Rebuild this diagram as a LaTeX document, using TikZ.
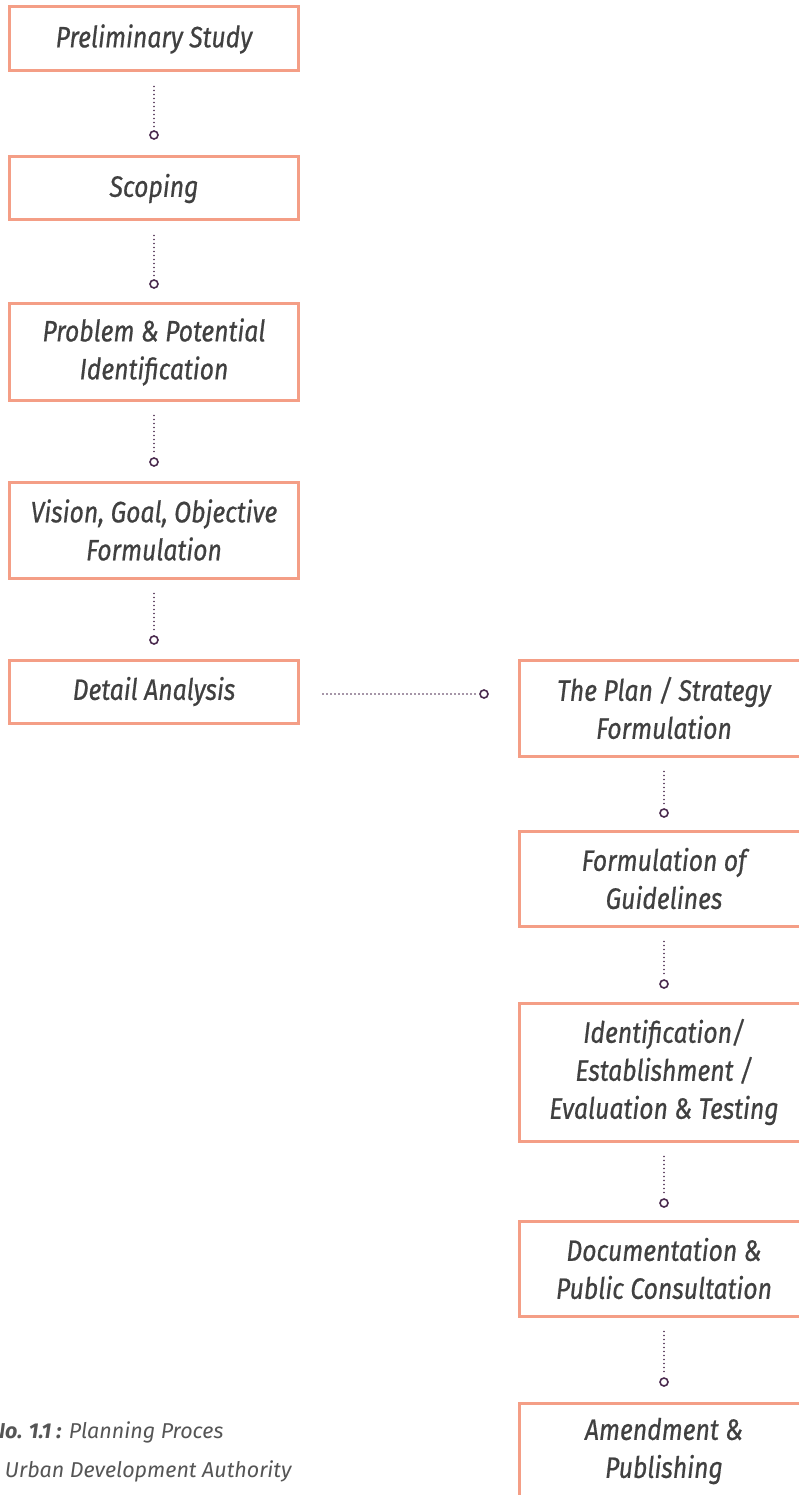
\documentclass[tikz,border=0pt]{standalone}
\usepackage{fontspec}
\setmainfont{Fira Sans}[FakeStretch=0.84, FakeBold=0.6]
\newfontfamily\capfont{Fira Sans}
\usetikzlibrary{calc,positioning}

\definecolor{boxline}{RGB}{244,158,134}
\definecolor{linkpurple}{RGB}{74,42,78}
\definecolor{boxtext}{RGB}{64,64,64}
\definecolor{captext}{RGB}{85,85,85}

\tikzset{
  stage/.style={draw=boxline, line width=3pt, minimum width=289pt, inner sep=0pt,
                align=center, text=boxtext, font=\fontsize{29.5}{38}\selectfont\itshape},
  link/.style={linkpurple, line width=1.9pt, line cap=round, dash pattern=on 0pt off 4pt},
  knob/.style={circle, draw=linkpurple, fill=white, line width=1.6pt, minimum size=8pt, inner sep=0pt},
  caption/.style={anchor=base east, text=captext, font=\capfont\fontsize{21.5}{26}\selectfont\itshape},
}

\begin{document}
\begin{tikzpicture}[x=1pt, y=-1pt]
  \useasboundingbox (0,0) rectangle (799,1495);

  % left column
  \node[stage, minimum height=64pt] (prelim)  at (154,39)    {Preliminary Study};
  \node[stage, minimum height=63pt] (scoping) at (154,188.5) {Scoping};
  \node[stage, minimum height=96pt] (problem) at (154,352)   {Problem \& Potential\\Identification};
  \node[stage, minimum height=96pt] (vision)  at (154,530)   {Vision, Goal, Objective\\Formulation};
  \node[stage, minimum height=63pt] (detail)  at (154,691.5) {Detail Analysis};

  % right column (runs off the page edge)
  \node[stage, minimum height=96pt]  (plan)   at (664,708)    {The Plan / Strategy\\Formulation};
  \node[stage, minimum height=95pt]  (guide)  at (664,878.5)  {Formulation of\\Guidelines};
  \node[stage, minimum height=138pt] (ident)  at (664,1072)   {Identification/\\Establishment /\\Evaluation \& Testing};
  \node[stage, minimum height=95pt]  (docu)   at (664,1268.5) {Documentation \&\\Public Consultation};
  \node[stage, minimum height=96pt]  (amend)  at (664,1451)   {Amendment \&\\Publishing};

  % end knobs of the dotted links
  \node[knob] (k2) at (154,135) {};
  \node[knob] (k3) at (154,284) {};
  \node[knob] (k4) at (154,462) {};
  \node[knob] (k5) at (154,640) {};
  \node[knob] (kh) at (484,694) {};
  \node[knob] (r2) at (664,813) {};
  \node[knob] (r3) at (664,984) {};
  \node[knob] (r4) at (664,1203) {};
  \node[knob] (r5) at (664,1382) {};

  % dotted links
  \foreach \from/\to in {prelim/k2, scoping/k3, problem/k4, vision/k5,
                         plan/r2, guide/r3, ident/r4, docu/r5}
    \draw[link, shorten <=14pt, shorten >=3pt] (\from.south) -- (\to.north);
  \draw[link, shorten <=23pt, shorten >=3pt] (detail.east |- kh) -- (kh.west);

  % caption, cut at the left edge
  \node[caption] (figno)  at (227,1438) {\textbf{No. 1.1 :} Planning Proces};
  \node[caption] (source) at (295,1477) {Urban Development Authority};
\end{tikzpicture}
\end{document}
